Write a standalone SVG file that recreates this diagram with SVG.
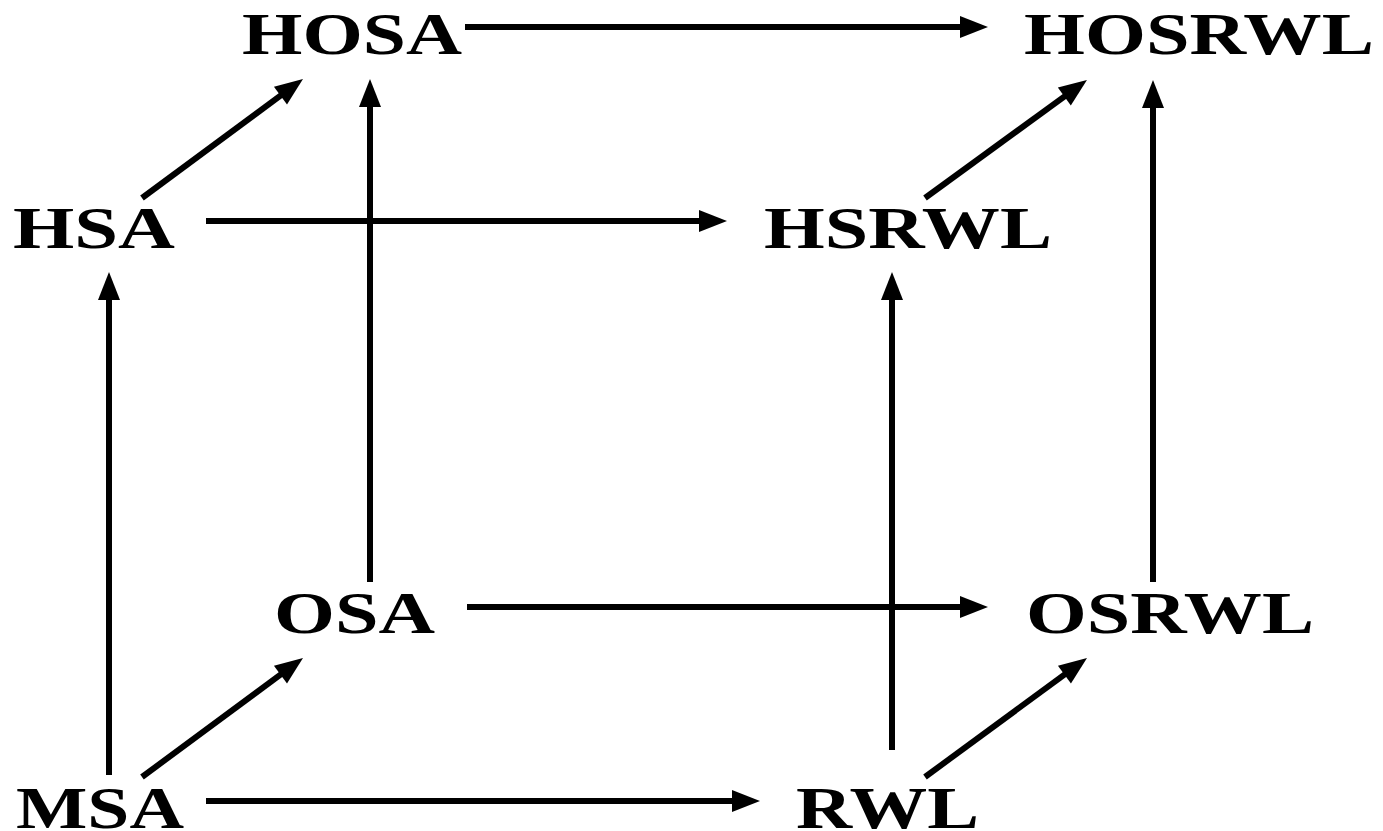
<svg xmlns="http://www.w3.org/2000/svg" width="1383" height="831" viewBox="0 0 1383 831">
  <style>
    .lbl { font-family: "Liberation Serif", "Times New Roman", serif; font-weight: bold; font-size: 59px; fill: #000; }
    .edge { stroke: #000; stroke-width: 6; fill: none; marker-end: url(#head); }
  </style>
  <defs>
    <marker id="head" markerUnits="userSpaceOnUse" markerWidth="30" markerHeight="24" refX="8" refY="11" orient="auto" overflow="visible">
      <path d="M0,0 L28,11 L0,22 z" fill="#000"/>
    </marker>
  </defs>
  <rect width="1383" height="831" fill="#fff"/>

  <g id="connectors">
    <!-- top face -->
    <line class="edge" x1="465" y1="27" x2="968" y2="27"/>
    <line class="edge" x1="142" y1="198" x2="286.9" y2="90.9"/>
    <line class="edge" x1="925" y1="198" x2="1070.8" y2="91.8"/>
    <line class="edge" x1="206" y1="221" x2="707" y2="221"/>
    <!-- verticals -->
    <line class="edge" x1="370" y1="582" x2="370" y2="99"/>
    <line class="edge" x1="1153" y1="582" x2="1153" y2="100"/>
    <line class="edge" x1="109" y1="775" x2="109" y2="292"/>
    <line class="edge" x1="892" y1="750" x2="892" y2="292"/>
    <!-- bottom face -->
    <line class="edge" x1="467" y1="607" x2="968" y2="607"/>
    <line class="edge" x1="142" y1="777" x2="286.9" y2="669.9"/>
    <line class="edge" x1="925" y1="777" x2="1070.9" y2="669.8"/>
    <line class="edge" x1="206" y1="801" x2="740" y2="801"/>
  </g>

  <g id="HOSA"><text class="lbl" x="242" y="54" textLength="220" lengthAdjust="spacingAndGlyphs">HOSA</text></g>
  <g id="HOSRWL"><text class="lbl" x="1024" y="54" textLength="350" lengthAdjust="spacingAndGlyphs">HOSRWL</text></g>
  <g id="HSA"><text class="lbl" x="13" y="248" textLength="162" lengthAdjust="spacingAndGlyphs">HSA</text></g>
  <g id="HSRWL"><text class="lbl" x="764" y="248" textLength="288" lengthAdjust="spacingAndGlyphs">HSRWL</text></g>
  <g id="OSA"><text class="lbl" x="274" y="633" textLength="161" lengthAdjust="spacingAndGlyphs">OSA</text></g>
  <g id="OSRWL"><text class="lbl" x="1026" y="633" textLength="288" lengthAdjust="spacingAndGlyphs">OSRWL</text></g>
  <g id="MSA"><text class="lbl" x="16" y="828" textLength="168" lengthAdjust="spacingAndGlyphs">MSA</text></g>
  <g id="RWL"><text class="lbl" x="796" y="828" textLength="183" lengthAdjust="spacingAndGlyphs">RWL</text></g>
</svg>
